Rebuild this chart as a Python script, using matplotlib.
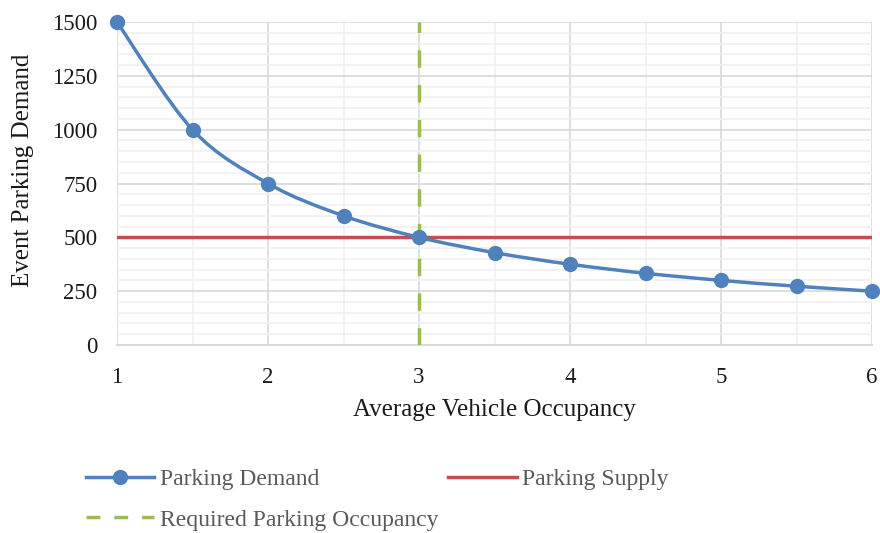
import matplotlib
matplotlib.use("Agg")
import matplotlib.pyplot as plt
import numpy as np
from matplotlib.path import Path
from matplotlib.patches import PathPatch
from matplotlib.lines import Line2D

occupancy = [1, 1.5, 2, 2.5, 3, 3.5, 4, 4.5, 5, 5.5, 6]
demand = [1500, 1000, 750, 600, 500, 429, 375, 333, 300, 273, 250]
supply = 500
required_occupancy = 3
x_ticks = [1, 2, 3, 4, 5, 6]
y_ticks = [0, 250, 500, 750, 1000, 1250, 1500]

plt.rcParams['font.family'] = ['Liberation Serif', 'DejaVu Serif']

BLUE = '#4F81BD'
RED = '#C0504D'
GREEN = '#9BBB59'

fig = plt.figure(figsize=(8.8, 5.33), dpi=100)
ax = fig.add_axes([117/880, 1-345/533, (872-117)/880, (345-22)/533])

ax.set_xlim(1, 6)
ax.set_ylim(0, 1500)

# grid
ax.set_xticks(x_ticks)
ax.set_yticks(y_ticks)
ax.set_xticks(np.arange(1.5, 6, 1.0), minor=True)
ax.set_yticks([v for v in range(50, 1500, 50) if v % 250], minor=True)
ax.grid(which='major', color='#D9D9D9', linewidth=1.2)
ax.grid(which='minor', color='#F0F0F0', linewidth=1.2)
ax.set_axisbelow(True)
for s in ['top', 'right', 'left']:
    ax.spines[s].set_visible(False)
ax.spines['bottom'].set_color('#D9D9D9')
ax.spines['bottom'].set_linewidth(1.5)
ax.tick_params(which='both', length=0)
ax.tick_params(axis='x', pad=16, labelsize=16.5)
ax.tick_params(axis='y', pad=14, labelsize=16.5)
for lab in ax.get_xticklabels() + ax.get_yticklabels():
    lab.set_color('#1a1a1a')

# supply line
ax.axhline(supply, color=RED, linewidth=2.5, zorder=2)
# required occupancy
ax.plot([required_occupancy, required_occupancy], [0, 1500], color=GREEN,
        linewidth=2.5, dashes=(5, 5), zorder=3)

# smoothed demand curve (Catmull-Rom -> Bezier)
xs = np.array(occupancy, float)
ys = np.array(demand, float)
verts = [(xs[0], ys[0])]
codes = [Path.MOVETO]
n = len(xs)
for i in range(n - 1):
    p0 = (xs[max(i-1, 0)], ys[max(i-1, 0)])
    p1 = (xs[i], ys[i])
    p2 = (xs[i+1], ys[i+1])
    p3 = (xs[min(i+2, n-1)], ys[min(i+2, n-1)])
    c1 = (p1[0] + (p2[0]-p0[0])/6, p1[1] + (p2[1]-p0[1])/6)
    c2 = (p2[0] - (p3[0]-p1[0])/6, p2[1] - (p3[1]-p1[1])/6)
    verts += [c1, c2, p2]
    codes += [Path.CURVE4]*3
patch = PathPatch(Path(verts, codes), facecolor='none', edgecolor=BLUE,
                  linewidth=2.5, zorder=4, clip_on=False)
ax.add_patch(patch)
ax.plot(occupancy, demand, linestyle='none', marker='o', markersize=10,
        color=BLUE, zorder=5, clip_on=False)

fig.text(494/880, 1-410/533, 'Average Vehicle Occupancy', fontsize=18,
         ha='center', va='center', color='#1a1a1a')
fig.text(23/880, 1-170/533, 'Event Parking Demand', fontsize=18,
         ha='center', va='center', rotation=90, color='#1a1a1a')

handles = [
    Line2D([], [], color=BLUE, linewidth=2.5, marker='o', markersize=10),
    Line2D([], [], color=GREEN, linewidth=2.5, dashes=(4, 4)),
    Line2D([], [], color=RED, linewidth=2.5),
]
labels = ['Parking Demand', 'Required Parking Occupancy', 'Parking Supply']
leg = fig.legend(handles, labels, loc='upper left', bbox_to_anchor=(74/880, 1-457/533),
                 ncol=2, frameon=False, fontsize=17, handlelength=2.9,
                 handletextpad=0.25, columnspacing=0.4, labelspacing=0.8,
                 labelcolor='#595959', borderpad=0)

fig.savefig('out.png', dpi=100)
